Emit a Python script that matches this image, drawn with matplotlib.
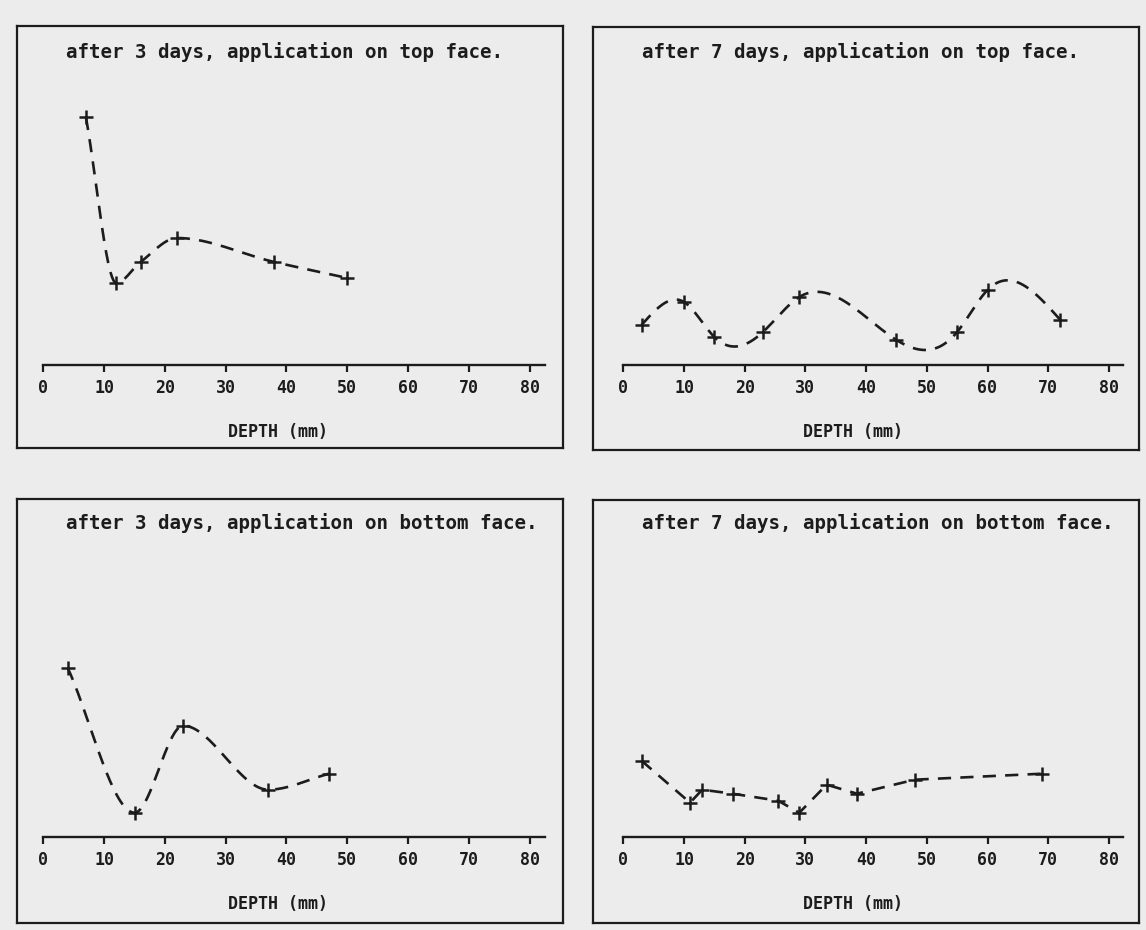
import numpy as np
import matplotlib
matplotlib.use("Agg")
import matplotlib.pyplot as plt

# chloride profiles, heights above the depth axis (no y scale on the original)
W, H = 1146, 930
PAPER = "#ececec"
INK = "#1c1c1c"

titles = ["after 3 days, application on top face.",
          "after 7 days, application on top face.",
          "after 3 days, application on bottom face.",
          "after 7 days, application on bottom face."]

# top left
depth_3t = [7, 12, 16, 22, 38, 50]
val_3t = [248, 82, 103, 127, 103, 87]
# top right
depth_7t = [3, 10, 15, 23, 29, 45, 55, 60, 72]
val_7t = [40, 63, 28, 33, 68, 25, 33, 75, 45]
# bottom left
depth_3b = [4, 15, 23, 37, 47]
val_3b = [169, 24, 111, 47, 63]
# bottom right
depth_7b = [3, 11, 13, 18, 25.5, 29, 33.5, 38.5, 48, 69]
val_7b = [76, 34, 47, 43, 36, 24, 52, 43, 57, 63]

xticks = [0, 10, 20, 30, 40, 50, 60, 70, 80]


def spline(x, y, n=400):
    # natural cubic spline, just for drawing the smooth dashed curve
    x = np.asarray(x, float)
    y = np.asarray(y, float)
    h = np.diff(x)
    m = len(x)
    A = np.zeros((m, m))
    b = np.zeros(m)
    A[0, 0] = A[-1, -1] = 1
    for i in range(1, m - 1):
        A[i, i - 1] = h[i - 1]
        A[i, i] = 2 * (h[i - 1] + h[i])
        A[i, i + 1] = h[i]
        b[i] = 3 * ((y[i + 1] - y[i]) / h[i] - (y[i] - y[i - 1]) / h[i - 1])
    c = np.linalg.solve(A, b)
    xs = np.linspace(x[0], x[-1], n)
    k = np.clip(np.searchsorted(x, xs) - 1, 0, m - 2)
    dx = xs - x[k]
    bk = (y[k + 1] - y[k]) / h[k] - h[k] * (2 * c[k] + c[k + 1]) / 3
    dk = (c[k + 1] - c[k]) / (3 * h[k])
    return xs, y[k] + bk * dx + c[k] * dx ** 2 + dk * dx ** 3


def pchip(x, y, n=400):
    # monotone cubic (no overshoot between points)
    x = np.asarray(x, float)
    y = np.asarray(y, float)
    h = np.diff(x)
    dl = np.diff(y) / h
    m = np.zeros(len(x))
    m[0], m[-1] = dl[0], dl[-1]
    for k in range(1, len(x) - 1):
        if dl[k - 1] * dl[k] > 0:
            w1 = 2 * h[k] + h[k - 1]
            w2 = h[k] + 2 * h[k - 1]
            m[k] = (w1 + w2) / (w1 / dl[k - 1] + w2 / dl[k])
    xs = np.linspace(x[0], x[-1], n)
    k = np.clip(np.searchsorted(x, xs) - 1, 0, len(x) - 2)
    t = (xs - x[k]) / h[k]
    h00 = 2 * t ** 3 - 3 * t ** 2 + 1
    h10 = t ** 3 - 2 * t ** 2 + t
    h01 = -2 * t ** 3 + 3 * t ** 2
    h11 = t ** 3 - t ** 2
    ys = h00 * y[k] + h10 * h[k] * m[k] + h01 * y[k + 1] + h11 * h[k] * m[k + 1]
    return xs, ys


def rect(x0, y0, x1, y1):
    return [x0 / W, 1 - y1 / H, (x1 - x0) / W, (y1 - y0) / H]


plt.rcParams["font.family"] = "DejaVu Sans Mono"
plt.rcParams["font.weight"] = "bold"
plt.rcParams["axes.labelweight"] = "bold"
fig = plt.figure(figsize=(W / 100, H / 100), dpi=100, facecolor=PAPER)

# box, plot area (left, axis y, right), title xy, xlabel x-frac, curve type
panels = [
    ((16.7, 26, 563.3, 448.5), (43.3, 365, 545), (66, 52), 0.467, depth_3t, val_3t, pchip),
    ((593.3, 27, 1139, 450), (623.3, 365, 1123), (642, 52), 0.459, depth_7t, val_7t, spline),
    ((16.7, 499, 563.3, 923), (43.3, 836.7, 545), (66, 523), 0.467, depth_3b, val_3b, pchip),
    ((593.3, 500, 1139, 923), (623.3, 836.7, 1123), (642, 523), 0.459, depth_7b, val_7b, None),
]

for i, (box, area, tpos, labx, xd, yd, curve) in enumerate(panels):
    frame = fig.add_axes(rect(*box))
    frame.set_facecolor(PAPER)
    frame.set_xticks([])
    frame.set_yticks([])
    for s in frame.spines.values():
        s.set_linewidth(1.6)
        s.set_color(INK)

    left, base, right = area
    ax = fig.add_axes(rect(left, base - 270, right, base))
    ax.patch.set_alpha(0)
    ppu = 6.08 if left < 300 else 6.07
    ax.set_xlim(0, (right - left) / ppu)
    ax.set_ylim(0, 270)
    for s in ["top", "left", "right"]:
        ax.spines[s].set_visible(False)
    ax.spines["bottom"].set_linewidth(1.7)
    ax.spines["bottom"].set_color(INK)
    ax.set_yticks([])
    ax.set_xticks(xticks)
    ax.tick_params(axis="x", direction="out", length=5, width=1.6, color=INK,
                   labelsize=12, labelcolor=INK, pad=5)
    ax.set_xlabel("DEPTH (mm)", fontsize=12, color=INK)
    ax.xaxis.set_label_coords(labx, -0.215)

    if curve is None:
        xs, ys = xd, yd
    else:
        xs, ys = curve(xd, yd)
    ax.plot(xs, ys, color=INK, lw=1.9, linestyle=(0, (5, 3.5)))
    ax.plot(xd, yd, linestyle="none", marker="+", ms=10, mew=1.8, color=INK)

    fig.text(tpos[0] / W, 1 - tpos[1] / H, titles[i], fontsize=13.8, color=INK,
             ha="left", va="center")

fig.savefig("out.png", dpi=100, facecolor=PAPER)
